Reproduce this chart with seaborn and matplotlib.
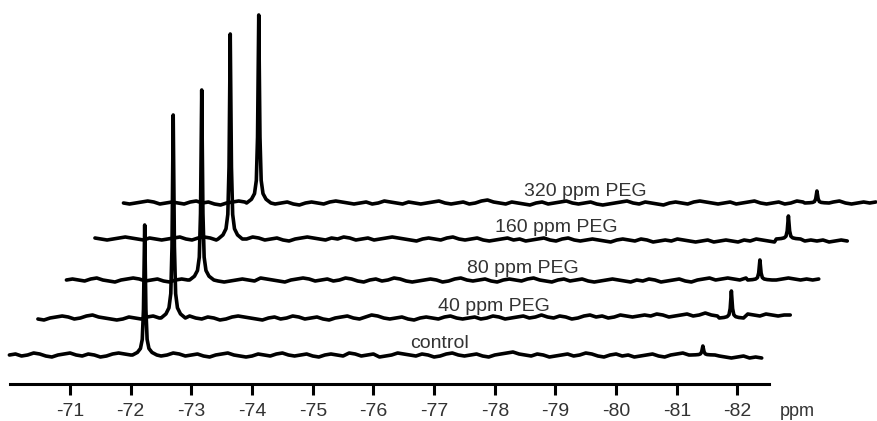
import numpy as np
import pandas as pd
import matplotlib
matplotlib.use('Agg')
import matplotlib.pyplot as plt
import seaborn as sns

# spectra, bottom to top
labels = ['control', '40 ppm PEG', '80 ppm PEG', '160 ppm PEG', '320 ppm PEG']
baseline_level = [29, 66, 104, 145, 181]      # height of each trace above the axis
main_peak_ppm = -72.23
main_height = [130, 203, 190, 205, 188]
minor_peak_ppm = -81.43
minor_height = [9, 27, 20, 23, 12]
tick_values = [-71, -72, -73, -74, -75, -76, -77, -78, -79, -80, -81, -82]

# baseline wiggle, every 0.1 ppm from -70.0
noise_control = [0, 1, -1, 0, 2, 1, -1, -2, 0, 1, 2, 0, -1, 1, 0, -2, -1, 1, 2, 1, 0, -1, -2, 0, 1,
                 -1, 0, 2, 1, -1, 0, 1, -1, -2, 0, 1, 2, 0, -1, -2, -1, 1, 0, -1, 1, 2, 0, -1, 0, 1,
                 -1, -2, 0, 1, 0, -1, 2, 1, -1, 0, 1, -2, -1, 0, 2, 1, 0, -1, 1, 0, -2, -1, 1, 2, 0,
                 -1, 0, 1, -1, -2, 0, 1, 2, 3, 1, 0, -1, 1, 0, -2, -1, 0, 1, -1, 0, 2, 1, -1, -2, 0,
                 1, -1, 0, -2, -1, 0, 1, -1, -2, 0, 1, 2, 0, 3, 1, -1, -2, -1, -2, -3, -2, -1, -3, -2, -3]
noise_40 = [-1, -2, 0, 1, 2, 1, -1, 0, 2, 3, 1, 0, -1, -2, -1, 1, 0, -1, 1, 2, 0, -2, -1, 0, 1,
            2, 0, -1, 1, 0, -2, -1, 1, 2, 1, 0, -1, -2, 0, 1, -1, 0, 2, 1, -1, 0, 1, -1, -2, 0,
            1, 2, 0, -1, 1, 3, 2, 0, -1, 0, 1, -1, -2, 0, 1, 0, -1, 1, 2, 0, -1, 0, 1, -1, 0,
            2, 1, -1, 0, 1, 2, 0, 1, 3, 1, 0, 2, 1, -1, 0, 2, 3, 1, 2, 0, 1, 3, 2, 1, 2,
            3, 2, 4, 3, 1, 2, 3, 4, 2, 3, 5, 3, 2, 3, 4, 2, 3, 4, 3, 2, 4, 3, 2, 3, 3]
noise_80 = [0, 1, 0, -1, 1, 2, 0, -1, -2, 0, 1, 2, 1, -1, 0, 1, -1, -2, 0, 1, 0, -1, 1, 2, 0,
            -1, -2, -1, 0, 1, 0, -1, 2, 1, 0, -1, -2, 0, 1, 2, 1, -1, 0, 1, -1, 0, 2, 1, -1, -2,
            0, 1, -1, 0, 2, 1, -1, -2, -1, 0, 1, 0, -2, -1, 1, 2, 0, -1, 0, 1, -1, -2, 0, 1, 0,
            -1, 1, 2, 0, -1, -2, 0, 1, -1, 0, 1, -1, -2, -1, 0, 1, 0, -1, -2, 0, -1, 1, 0, -2, -1,
            0, 1, -1, -2, 0, 1, 2, 0, 1, 2, 1, 0, 2, 1, 0, 1, 2, 0, 1, 2, 1, 0, 1, 0, 1]
noise_160 = [1, 0, -1, 0, 1, 2, 1, 0, -1, 1, 0, -1, 0, 1, 2, 0, -1, 1, 2, 1, -1, 0, 1, 0, -1,
             0, 2, 1, -1, 0, 1, -1, -2, 0, 1, 2, 1, 0, -1, 1, 0, 2, 1, -1, 0, 1, -1, 0, 1, 2,
             1, 0, -1, -2, 0, 1, 0, -1, 1, 2, 0, -1, 0, 1, -1, -2, -1, 0, 1, -1, 0, -2, -1, 0, 1,
             -1, -2, 0, 1, -1, -2, -1, 0, -1, -2, -3, -1, 0, -1, -2, 0, -1, -3, -2, -1, -2, 0, -1, -2, -3,
             -2, -1, -3, -2, -1, -2, -3, -1, -2, 0, -1, -2, -3, -2, -1, -2, -3, -2, -1, -2, -1, -3, -2, -1, -2]
noise_320 = [0, -1, 0, 1, 2, 1, -1, 0, 1, 0, -1, 1, 2, 0, 1, -1, -2, 0, 1, 2, 1, 0, -1, 1, 0,
             -1, 0, 1, -1, -2, 0, 1, 0, -1, 1, 2, 1, 0, -1, 0, 1, -1, 0, 2, 1, 0, -1, 1, 0, -1,
             0, 1, 2, 0, -1, 0, 1, -1, 0, 2, 3, 1, 0, -1, 1, 0, -1, -2, 0, 1, -1, 0, 1, 2, 0,
             -1, 0, 1, -1, -2, -1, 0, 1, 2, 0, -1, 1, 0, -1, -2, 0, 1, 0, -1, 1, 2, 1, 0, -1, 0,
             1, -1, 0, 1, 2, 0, -1, 0, 1, -1, 0, 2, 1, 0, -1, 1, 0, 1, 2, 0, -1, 0, 1, 0, 1]
noises = [noise_control, noise_40, noise_80, noise_160, noise_320]

# peak profile (ppm from centre, fraction of peak height)
peak_dx = [-0.2, -0.12, -0.07, -0.04, -0.02, 0.0, 0.02, 0.04, 0.07, 0.12, 0.2]
peak_shape = [0.0, 0.02, 0.05, 0.12, 0.35, 1.0, 0.35, 0.12, 0.05, 0.02, 0.0]

sns.set_style('white')
plt.rcParams['font.family'] = ['Liberation Sans', 'DejaVu Sans']
plt.rcParams['axes.unicode_minus'] = False

fig = plt.figure(figsize=(8.77, 4.21), dpi=100)
ax = fig.add_axes([10 / 877, 37 / 421, 759 / 877, 384 / 421])

shift = 0.47   # each trace is stepped right by this much
pdx = np.array(peak_dx)
pshape = np.array(peak_shape)
for k, (lab, base, nz) in enumerate(zip(labels, baseline_level, noises)):
    nz = np.array(nz, dtype=float)
    grid = -70.0 - 0.1 * np.arange(len(nz))
    keep = (np.abs(grid - main_peak_ppm) > 0.2) & (np.abs(grid - minor_peak_ppm) > 0.2)
    x = np.concatenate([grid[keep], main_peak_ppm + pdx, minor_peak_ppm + pdx])
    y = np.concatenate([base + nz[keep], base + main_height[k] * pshape,
                        base + minor_height[k] * pshape])
    order = np.argsort(-x)
    df = pd.DataFrame({'ppm': x[order] - k * shift, 'y': y[order]})
    sns.lineplot(data=df, x='ppm', y='y', sort=False, estimator=None,
                 color='black', lw=2.6, ax=ax)
    ax.text(-76.6 - k * shift, base + 7, lab, ha='left', va='baseline',
            fontsize=14, color='#333333')

for line in ax.lines:
    line.set_clip_on(False)

ax.set_xlim(-70.01, -82.52)
ax.set_ylim(0, 384)
for s in ['left', 'top', 'right']:
    ax.spines[s].set_visible(False)
ax.spines['bottom'].set_linewidth(2.2)
ax.spines['bottom'].set_color('black')
ax.set_yticks([])
ax.set_xticks(tick_values)
ax.set_xticklabels([str(t) for t in tick_values])
ax.tick_params(axis='x', bottom=True, direction='out', length=8, width=2.2,
               pad=6, labelsize=14, labelcolor='#333333', color='black')
ax.set_xlabel('')
ax.set_ylabel('')
fig.text(797 / 877, 1 - 412 / 421, 'ppm', ha='center', va='center',
         fontsize=13, color='#333333')

fig.savefig('out.png', dpi=100)
